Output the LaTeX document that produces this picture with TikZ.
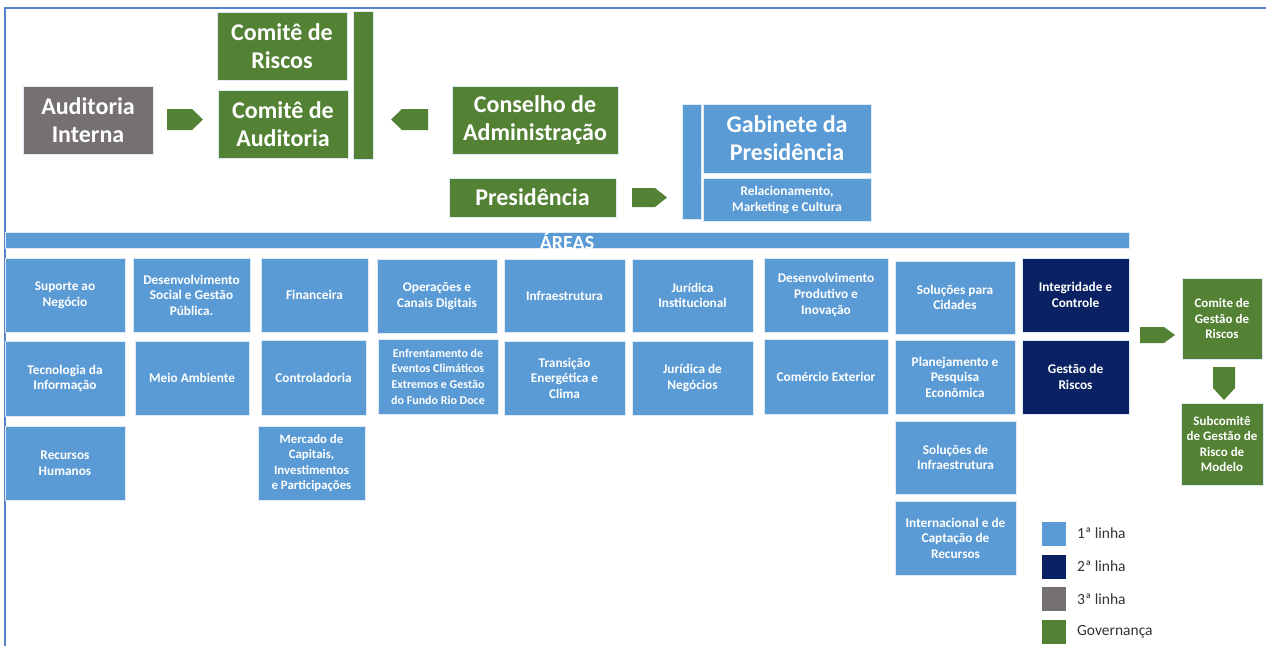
\documentclass[tikz,border=0pt]{standalone}
\usepackage{fontspec}
\setmainfont{Carlito}
\definecolor{lb}{HTML}{5B9BD5}
\definecolor{gv}{HTML}{548235}
\definecolor{gy}{HTML}{767171}
\definecolor{nv}{HTML}{0A2263}
\definecolor{fr}{HTML}{5585C8}
\tikzset{
  bx/.style={inner sep=0pt, align=center, text=white, draw=white!80!lb, line width=0.6pt},
  bigbox/.style={bx, font=\bfseries\fontsize{24}{28}\selectfont},
  govbox/.style={bigbox, fill=gv},
  audbox/.style={bigbox, fill=gy},
  gabbox/.style={bigbox, fill=lb},
  areabox/.style={bx, fill=lb, font=\bfseries\fontsize{13.3}{15.6}\selectfont},
  smallarea/.style={areabox, font=\bfseries\fontsize{12}{15.6}\selectfont},
  midarea/.style={areabox, font=\bfseries\fontsize{12.8}{15.6}\selectfont},
  navybox/.style={areabox, fill=nv},
  smallgov/.style={bx, fill=gv, font=\bfseries\fontsize{13}{15.3}\selectfont},
  barbox/.style={bx},
  blockarrow/.style={fill=gv},
  legsq/.style={inner sep=0pt, minimum width=24pt, minimum height=24pt},
  legtxt/.style={anchor=west, inner sep=0pt, font=\fontsize{15.5}{18}\selectfont, text=black!80},
}
\newcommand\bx[7]{\node[#2, minimum width={(#5-#3)*1pt}, minimum height={(#6-#4)*1pt}] (#1) at ({(#3+#5)/2},{(#4+#6)/2}) {#7};}
\begin{document}
\begin{tikzpicture}[x=1pt,y=-1pt]
\useasboundingbox (0,0) rectangle (1266,646);
\fill[white] (0,0) rectangle (1266,646);
% frame
\draw[fr, line width=2pt] (1266,8) -- (5,8) -- (5,646);
% governance
\bx{ai}{audbox}{23}{86}{153}{154}{Auditoria\\Interna}
\bx{cr}{govbox}{217}{12}{347}{80}{Comitê de\\Riscos}
\bx{ca}{govbox}{218}{90}{348}{158}{Comitê de\\Auditoria}
\bx{gbar}{barbox, fill=gv}{353}{11}{373}{159}{}
\bx{cons}{govbox}{452}{86}{618}{154}{Conselho de\\Administração}
\bx{pres}{govbox}{449}{178}{616}{217}{Presidência}
\bx{bbar}{barbox, fill=lb}{682}{104}{701}{219}{}
\bx{gab}{gabbox}{703}{104}{871}{173}{Gabinete da\\Presidência}
\bx{rel}{areabox, font=\bfseries\fontsize{13.3}{16}\selectfont}{703}{178}{871}{221}{Relacionamento,\\Marketing e Cultura}
% block arrows
\fill[blockarrow] (167,109) -- (192,109) -- (203,119.5) -- (192,130) -- (167,130) -- cycle;
\fill[blockarrow] (428,109) -- (402,109) -- (391,119.5) -- (402,130) -- (428,130) -- cycle;
\fill[blockarrow] (632,188) -- (655,188) -- (667,197.5) -- (655,207) -- (632,207) -- cycle;
% areas bar
\bx{areas}{barbox, fill=lb}{5}{232}{1129}{248}{}
\node[anchor=base, inner sep=0pt, text=white, font=\bfseries\fontsize{20}{24}\selectfont] (areaslbl) at (567,249) {ÁREAS};
% column 1
\bx{a11}{areabox}{5}{258}{125}{332}{Suporte ao\\Negócio}
\bx{a12}{areabox}{5}{341}{125}{416}{Tecnologia da\\Informação}
\bx{a13}{areabox}{5}{426}{125}{500}{Recursos\\Humanos}
% column 2
\bx{a21}{areabox}{133}{258}{250}{332}{Desenvolvimento\\Social e Gestão\\Pública.}
\bx{a22}{areabox}{135}{341}{249}{415}{Meio Ambiente}
% column 3
\bx{a31}{areabox}{261}{258}{368}{332}{Financeira}
\bx{a32}{areabox}{261}{340}{366}{415}{Controladoria}
\bx{a33}{midarea}{258}{426}{365}{500}{Mercado de\\Capitais,\\Investimentos\\e Participações}
% column 4
\bx{a41}{areabox}{377}{259}{497}{333}{Operações e\\Canais Digitais}
\bx{a42}{smallarea}{378}{339}{498}{414}{Enfrentamento de\\Eventos Climáticos\\Extremos e Gestão\\do Fundo Rio Doce}
% column 5
\bx{a51}{areabox}{504}{259}{625}{332}{Infraestrutura}
\bx{a52}{areabox}{504}{341}{625}{415}{Transição\\Energética e\\Clima}
% column 6
\bx{a61}{areabox}{632}{259}{753}{332}{Jurídica\\Institucional}
\bx{a62}{areabox}{632}{341}{753}{415}{Jurídica de\\Negócios}
% column 7
\bx{a71}{areabox}{764}{258}{888}{332}{Desenvolvimento\\Produtivo e\\Inovação}
\bx{a72}{areabox}{764}{339}{888}{414}{Comércio Exterior}
% column 8
\bx{a81}{areabox}{895}{261}{1015}{334}{Soluções para\\Cidades}
\bx{a82}{areabox}{895}{340}{1015}{414}{Planejamento e\\Pesquisa\\Econômica}
\bx{a83}{areabox}{895}{421}{1016}{494}{Soluções de\\Infraestrutura}
\bx{a84}{areabox}{895}{501}{1016}{575}{Internacional e de\\Captação de\\Recursos}
% column 9 (2nd line)
\bx{a91}{navybox}{1022}{258}{1129}{332}{Integridade e\\Controle}
\bx{a92}{navybox}{1022}{340}{1129}{414}{Gestão de\\Riscos}
% risk committees
\fill[blockarrow] (1140,327) -- (1164,327) -- (1175,335) -- (1164,343) -- (1140,343) -- cycle;
\bx{cgr}{smallgov}{1182}{278}{1262}{359}{Comite de\\Gestão de\\Riscos}
\fill[blockarrow] (1213,367) -- (1235,367) -- (1235,388) -- (1224,400) -- (1213,388) -- cycle;
\bx{sub}{smallgov}{1181}{403}{1263}{485}{Subcomitê\\de Gestão de\\Risco de\\Modelo}
% legend
\node[legsq, fill=lb] (l1) at (1054,533.5) {};
\node[legsq, fill=nv] (l2) at (1054,566.5) {};
\node[legsq, fill=gy] (l3) at (1054,599) {};
\node[legsq, fill=gv] (l4) at (1054,632) {};
\node[legtxt] (t1) at (1077,533.5) {1ª linha};
\node[legtxt] (t2) at (1077,566.5) {2ª linha};
\node[legtxt] (t3) at (1077,599) {3ª linha};
\node[legtxt] (t4) at (1077,632) {Governança};
\end{tikzpicture}
\end{document}
